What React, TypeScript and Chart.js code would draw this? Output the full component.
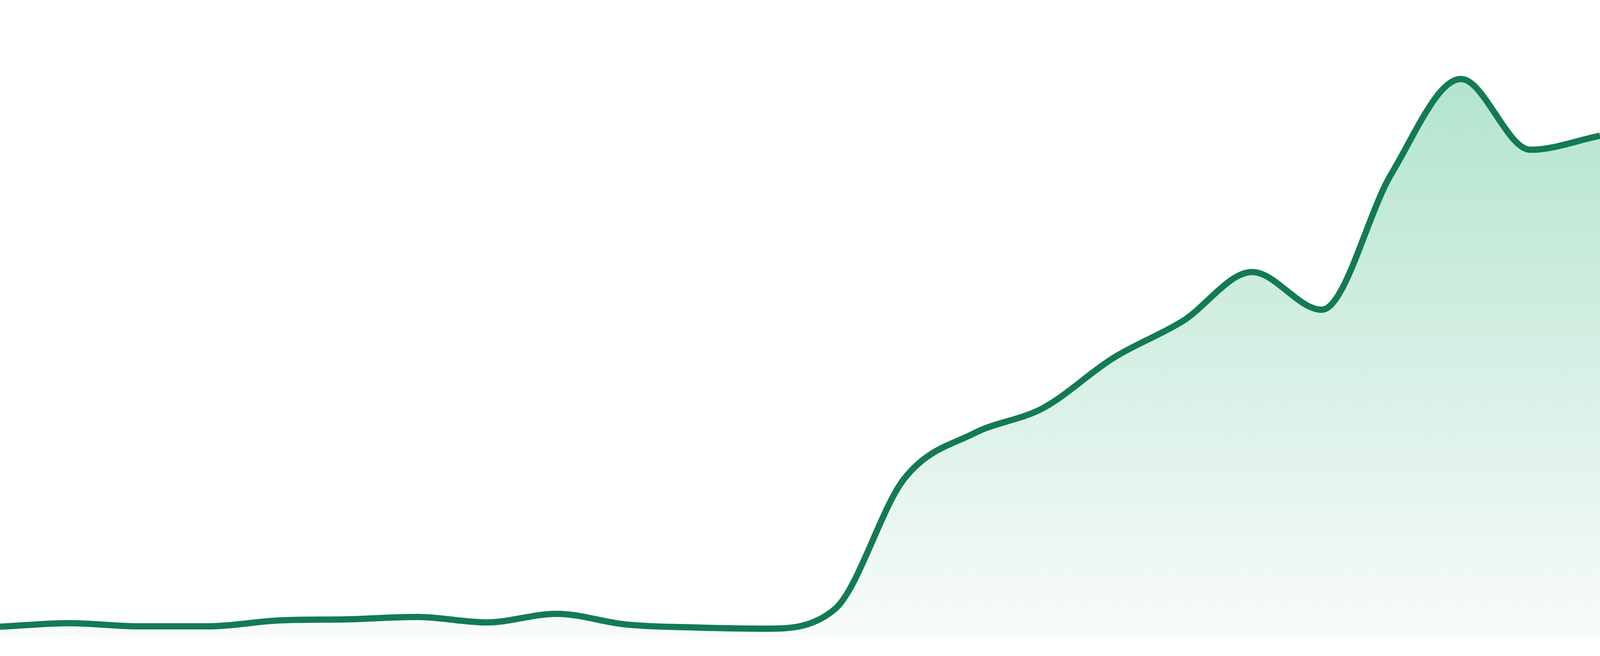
import React, { useEffect, useRef } from "react";
import Chart from "chart.js/auto";

const periods: string[] = [
  "P01", "P02", "P03", "P04", "P05", "P06", "P07", "P08",
  "P09", "P10", "P11", "P12", "P13", "P14", "P15", "P16",
  "P17", "P18", "P19", "P20", "P21", "P22", "P23", "P24",
];

const values: number[] = [
  1.65, 2.21, 1.72, 1.72, 2.63, 2.82, 3.19, 2.33,
  3.68, 2.0, 1.53, 1.35, 4.4, 24.9, 32.0, 36.0,
  43.8, 49.6, 57.3, 51.4, 72.7, 87.6, 76.5, 78.7,
];

const LINE_COLOR = "#137b52";
const FILL_TOP = "#a9e1c8";
const FILL_BOTTOM = "#f8fbfa";

export default function App() {
  const canvasRef = useRef<HTMLCanvasElement | null>(null);

  useEffect(() => {
    const prevMargin = document.body.style.margin;
    document.body.style.margin = "0";
    const canvas = canvasRef.current;
    if (!canvas) return;
    const chart = new Chart(canvas, {
      type: "line",
      data: {
        labels: periods,
        datasets: [
          {
            data: values,
            borderColor: LINE_COLOR,
            borderWidth: 16,
            pointRadius: 0,
            pointHoverRadius: 0,
            cubicInterpolationMode: "monotone",
            fill: "start",
            backgroundColor: (ctx: any) => {
              const area = ctx.chart.chartArea;
              if (!area) return FILL_BOTTOM;
              const g = ctx.chart.ctx.createLinearGradient(0, area.top, 0, area.bottom);
              g.addColorStop(0, FILL_TOP);
              g.addColorStop(1, FILL_BOTTOM);
              return g;
            },
          },
        ],
      },
      options: {
        animation: false,
        responsive: true,
        maintainAspectRatio: false,
        layout: { padding: { top: 0, bottom: 48, left: 0, right: 0 } },
        plugins: { legend: { display: false }, tooltip: { enabled: false } },
        scales: {
          x: { display: false, offset: false },
          y: { display: false, min: 0, max: 100 },
        },
      },
    });
    return () => {
      chart.destroy();
      document.body.style.margin = prevMargin;
    };
  }, []);

  return (
    <div style={{ position: "fixed", left: 0, top: 0, width: "100vw", height: "100vh", background: "#ffffff" }}>
      <canvas ref={canvasRef} />
    </div>
  );
}
